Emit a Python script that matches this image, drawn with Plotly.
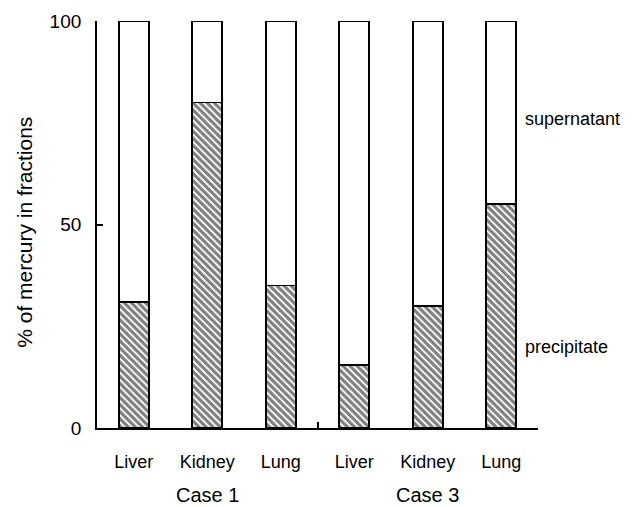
import plotly.graph_objects as go

organs = ["Liver", "Kidney", "Lung", "Liver", "Kidney", "Lung"]
cases = ["Case 1", "Case 3"]
precipitate = [31, 80, 35, 15.5, 30, 55]
supernatant = [100 - p for p in precipitate]
yticks = [0, 50, 100]

xpos = list(range(len(organs)))
FONT = "Liberation Sans, Arial, sans-serif"

fig = go.Figure()
fig.add_trace(go.Bar(
    x=xpos, y=precipitate, width=0.41, name="precipitate",
    marker=dict(color="white", line=dict(color="black", width=1.8),
                pattern=dict(shape="\\", fgcolor="black", bgcolor="white",
                             size=5, solidity=0.65)),
    showlegend=False,
))
fig.add_trace(go.Bar(
    x=xpos, y=supernatant, width=0.41, name="supernatant",
    marker=dict(color="white", line=dict(color="black", width=1.8)),
    showlegend=False,
))
# invisible trace to carry secondary x axis (group separator ticks)
fig.add_trace(go.Scatter(x=[-0.5, 5.5], y=[0, 0], xaxis="x2", mode="none",
                         showlegend=False, hoverinfo="skip"))

fig.update_layout(
    barmode="stack",
    width=630, height=499,
    margin=dict(l=89, r=100, t=13, b=79),
    paper_bgcolor="white", plot_bgcolor="white",
    font=dict(family=FONT, color="black", size=18),
    xaxis=dict(range=[-0.5, 5.5], tickmode="array", tickvals=xpos, ticktext=organs,
               showgrid=False, zeroline=False, showline=True, linecolor="black",
               linewidth=1.8, ticks="", ticklabelstandoff=16, automargin=False,
               tickfont=dict(size=18)),
    xaxis2=dict(range=[-0.5, 5.5], overlaying="x", side="bottom", tickmode="array",
                tickvals=[2.5, 5.5], ticks="inside", ticklen=6, tickwidth=1.5,
                tickcolor="black", showticklabels=False, showgrid=False,
                zeroline=False, showline=False, automargin=False),
    yaxis=dict(range=[0, 100], tickmode="array", tickvals=yticks,
               ticktext=[str(v) for v in yticks], automargin=False,
               showgrid=False, zeroline=False, showline=True, linecolor="black",
               linewidth=1.8, ticks="inside", ticklen=6, tickwidth=1.5,
               tickcolor="black", ticklabelstandoff=10, tickfont=dict(size=19)),
    annotations=[
        dict(text="% of mercury in fractions", textangle=-90, xref="paper", yref="paper",
             x=-0.163, y=0.48, showarrow=False, font=dict(size=21),
             xanchor="center", yanchor="middle"),
        dict(text=cases[0], xref="x", yref="paper", x=1, y=-0.165, showarrow=False,
             font=dict(size=20), yanchor="middle"),
        dict(text=cases[1], xref="x", yref="paper", x=4, y=-0.165, showarrow=False,
             font=dict(size=20), yanchor="middle"),
        dict(text="supernatant", xref="x", yref="y", x=5.3, y=76, xanchor="left",
             showarrow=False, font=dict(size=18)),
        dict(text="precipitate", xref="x", yref="y", x=5.3, y=20, xanchor="left",
             showarrow=False, font=dict(size=18)),
    ],
)

fig.write_html("out.html")
